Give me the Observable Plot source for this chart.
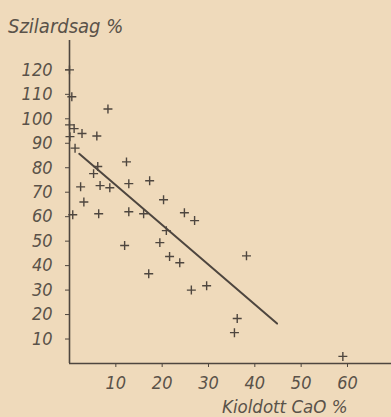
<!DOCTYPE html>
<html>
<head>
<meta charset="utf-8">
<script src="https://cdn.jsdelivr.net/npm/d3@7"></script>
<script src="https://cdn.jsdelivr.net/npm/@observablehq/plot@0.6"></script>
<style>
  html, body { margin: 0; padding: 0; background: #efdabb; }
  #wrap { position: relative; width: 391px; height: 417px; overflow: hidden; background: #efdabb; }
  .lbl { position: absolute; font-family: "Liberation Sans Narrow", "DejaVu Sans Condensed", "DejaVu Sans", sans-serif; font-style: italic; color: #5a5249; white-space: nowrap; }
  #wrap svg { position: absolute; left: 0; top: 0; }
</style>
</head>
<body>
<div id="wrap">
  <div class="lbl" id="ytitle" style="left:8px; top:14px; font-size:20px;">Szilardsag %</div>
  <div class="lbl" id="xtitle" style="left:222px; top:396px; font-size:18.5px;">Kioldott CaO %</div>
</div>
<script>
// Dissolved CaO (%) vs. strength (%)
const cao = [0, 0.5, 8.3, 0, 1, 2.7, 5.9, 0.1, 1.2, 6.1, 5.2, 12.3, 17.3, 12.8, 2.4, 6.6, 8.7, 3.1, 20.3, 0.7, 6.3, 12.8, 16, 24.8, 27, 20.9, 11.9, 19.5, 21.6, 23.8, 17.1, 26.3, 29.6, 38.2, 36.2, 35.6, 59];
const strength = [120, 109, 104, 97.5, 96, 94, 93, 92.7, 88, 80.5, 77.6, 82.4, 74.7, 73.5, 72.2, 72.7, 71.8, 66, 66.9, 60.8, 61.2, 62, 61.2, 61.6, 58.4, 54.3, 48.2, 49.4, 43.7, 41.2, 36.7, 30, 31.8, 44, 18.4, 12.6, 2.9];
// Fitted trend line endpoints
const fitX = [2.1, 44.8];
const fitY = [85.7, 16.3];
const xTicks = [10, 20, 30, 40, 50, 60];
const yTicks = [10, 20, 30, 40, 50, 60, 70, 80, 90, 100, 110, 120];

const points = cao.map((x, i) => ({x, y: strength[i]}));
const fit = fitX.map((x, i) => ({x, y: fitY[i]}));
const ink = "#4e463f";

const chart = Plot.plot({
  width: 391,
  height: 417,
  marginLeft: 69,
  marginRight: 0,
  marginTop: 40,
  marginBottom: 54,
  style: {background: "transparent", fontFamily: "'Liberation Sans Narrow', 'DejaVu Sans Condensed', sans-serif", fontStyle: "italic", color: "#5a5249"},
  x: {domain: [0, 69.5]},
  y: {domain: [0, 132]},
  marks: [
    Plot.axisY({ticks: yTicks, tickSize: 4, tickPadding: 13, fontSize: 18, label: null, stroke: ink, fill: "#5a5249"}),
    Plot.axisX({ticks: xTicks, tickSize: 4, tickPadding: 9, fontSize: 18, label: null, stroke: ink, fill: "#5a5249"}),
    Plot.ruleX([0], {y1: 0, y2: 132, stroke: ink, strokeWidth: 1.6}),
    Plot.ruleY([0], {stroke: ink, strokeWidth: 1.6}),
    Plot.line(fit, {x: "x", y: "y", stroke: ink, strokeWidth: 2}),
    Plot.dot(points, {x: "x", y: "y", symbol: "plus", r: 3, stroke: ink, strokeWidth: 1.4})
  ]
});
document.getElementById("wrap").prepend(chart);
</script>
</body>
</html>
